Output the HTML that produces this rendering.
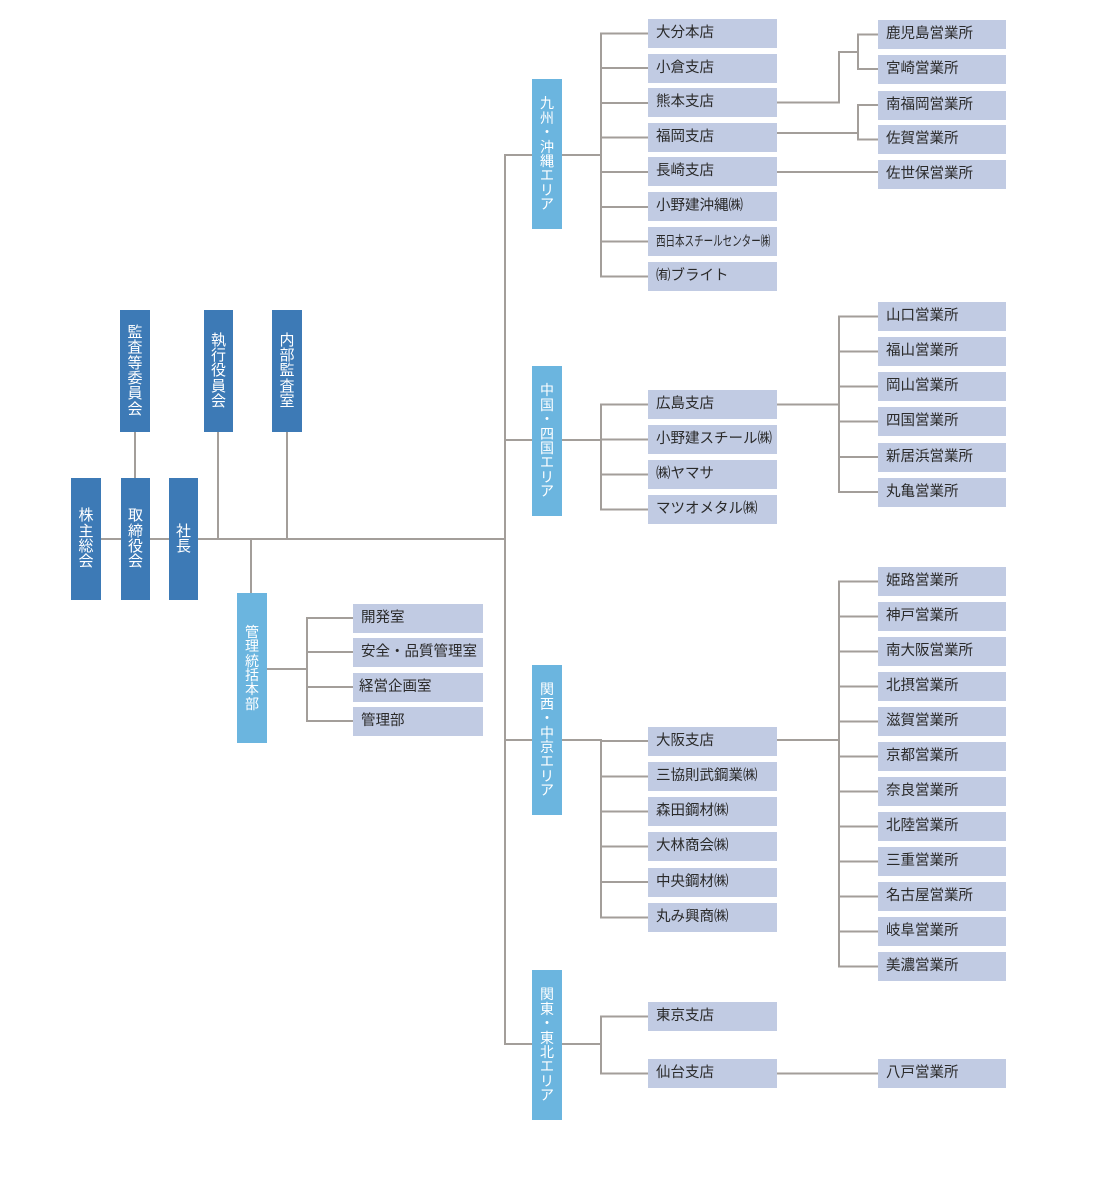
<!DOCTYPE html>
<html lang="ja">
<head>
<meta charset="utf-8">
<style>
html,body{margin:0;padding:0;background:#fff;}
#c{position:relative;width:1100px;height:1185px;overflow:hidden;background:#fff;font-family:"Liberation Sans","Noto Sans CJK JP",sans-serif;}
svg{position:absolute;left:0;top:0;}
.b{position:absolute;box-sizing:border-box;}
.d{background:#3d7ab6;color:#fff;font-size:15px !important;line-height:15.3px !important;}
.l{background:#6bb5df;color:#fff;}
.v{display:flex;align-items:center;justify-content:center;text-align:center;font-size:14px;line-height:14.4px;}
.g{background:#c1cbe3;color:#2a2a2a;font-size:14.5px;line-height:29px;height:29px;padding-left:8px;white-space:nowrap;}
.m{width:129px;left:648px;}
.r{width:128px;left:878px;}
.k{width:130px;left:353px;}
.cmp{display:inline-block;transform:scaleX(0.68);transform-origin:0 50%;font-size:14px;}
</style>
</head>
<body>
<div id="c">
<svg width="1100" height="1185" viewBox="0 0 1100 1185">
<g stroke="#a39e9a" stroke-width="2" fill="none">
<line x1="101" y1="539" x2="121" y2="539"/>
<line x1="150" y1="539" x2="169" y2="539"/>
<line x1="198" y1="539" x2="506" y2="539"/>
<line x1="135" y1="432" x2="135" y2="478"/>
<line x1="218" y1="432" x2="218" y2="539"/>
<line x1="287" y1="432" x2="287" y2="539"/>
<line x1="251" y1="539" x2="251" y2="593"/>
<line x1="267" y1="669" x2="307" y2="669"/>
<line x1="307" y1="617" x2="307" y2="722"/>
<line x1="307" y1="618" x2="353" y2="618"/>
<line x1="307" y1="652" x2="353" y2="652"/>
<line x1="307" y1="687" x2="353" y2="687"/>
<line x1="307" y1="721" x2="353" y2="721"/>
<line x1="505" y1="154" x2="505" y2="1045"/>
<line x1="505" y1="155" x2="532" y2="155"/>
<line x1="562" y1="155" x2="601" y2="155"/>
<line x1="601" y1="32.5" x2="601" y2="277.5"/>
<line x1="601" y1="33.5" x2="648" y2="33.5"/>
<line x1="601" y1="68" x2="648" y2="68"/>
<line x1="601" y1="103" x2="648" y2="103"/>
<line x1="601" y1="137.5" x2="648" y2="137.5"/>
<line x1="601" y1="172" x2="648" y2="172"/>
<line x1="601" y1="207" x2="648" y2="207"/>
<line x1="601" y1="241.5" x2="648" y2="241.5"/>
<line x1="601" y1="276.5" x2="648" y2="276.5"/>
<line x1="777" y1="102.5" x2="839" y2="102.5"/>
<line x1="839" y1="103.5" x2="839" y2="51"/>
<line x1="839" y1="52" x2="858" y2="52"/>
<line x1="858" y1="33.5" x2="858" y2="70"/>
<line x1="858" y1="34.5" x2="878" y2="34.5"/>
<line x1="858" y1="69" x2="878" y2="69"/>
<line x1="777" y1="133" x2="858" y2="133"/>
<line x1="858" y1="104" x2="858" y2="140.5"/>
<line x1="858" y1="105" x2="878" y2="105"/>
<line x1="858" y1="139.5" x2="878" y2="139.5"/>
<line x1="777" y1="172" x2="878" y2="172"/>
<line x1="505" y1="440" x2="532" y2="440"/>
<line x1="562" y1="440" x2="601" y2="440"/>
<line x1="601" y1="403.5" x2="601" y2="510.5"/>
<line x1="601" y1="404.5" x2="648" y2="404.5"/>
<line x1="601" y1="439.5" x2="648" y2="439.5"/>
<line x1="601" y1="474.5" x2="648" y2="474.5"/>
<line x1="601" y1="509.5" x2="648" y2="509.5"/>
<line x1="777" y1="404.5" x2="839" y2="404.5"/>
<line x1="839" y1="315.5" x2="839" y2="493"/>
<line x1="839" y1="316.5" x2="878" y2="316.5"/>
<line x1="839" y1="351.5" x2="878" y2="351.5"/>
<line x1="839" y1="386.5" x2="878" y2="386.5"/>
<line x1="839" y1="421.5" x2="878" y2="421.5"/>
<line x1="839" y1="457" x2="878" y2="457"/>
<line x1="839" y1="492" x2="878" y2="492"/>
<line x1="505" y1="740" x2="532" y2="740"/>
<line x1="562" y1="740" x2="601" y2="740"/>
<line x1="601" y1="739" x2="601" y2="918.5"/>
<line x1="601" y1="741" x2="648" y2="741"/>
<line x1="601" y1="776.5" x2="648" y2="776.5"/>
<line x1="601" y1="811.5" x2="648" y2="811.5"/>
<line x1="601" y1="846.5" x2="648" y2="846.5"/>
<line x1="601" y1="882" x2="648" y2="882"/>
<line x1="601" y1="917.5" x2="648" y2="917.5"/>
<line x1="777" y1="740" x2="839" y2="740"/>
<line x1="839" y1="580.5" x2="839" y2="967.5"/>
<line x1="839" y1="581.5" x2="878" y2="581.5"/>
<line x1="839" y1="616.5" x2="878" y2="616.5"/>
<line x1="839" y1="651.5" x2="878" y2="651.5"/>
<line x1="839" y1="686.5" x2="878" y2="686.5"/>
<line x1="839" y1="721.5" x2="878" y2="721.5"/>
<line x1="839" y1="756.5" x2="878" y2="756.5"/>
<line x1="839" y1="791.5" x2="878" y2="791.5"/>
<line x1="839" y1="826.5" x2="878" y2="826.5"/>
<line x1="839" y1="861.5" x2="878" y2="861.5"/>
<line x1="839" y1="896.5" x2="878" y2="896.5"/>
<line x1="839" y1="931.5" x2="878" y2="931.5"/>
<line x1="839" y1="966.5" x2="878" y2="966.5"/>
<line x1="505" y1="1044" x2="532" y2="1044"/>
<line x1="562" y1="1044" x2="601" y2="1044"/>
<line x1="601" y1="1015.5" x2="601" y2="1074.5"/>
<line x1="601" y1="1016.5" x2="648" y2="1016.5"/>
<line x1="601" y1="1073.5" x2="648" y2="1073.5"/>
<line x1="777" y1="1073.5" x2="878" y2="1073.5"/>
</g>
</svg>

<div class="b d v" style="left:71px;top:478px;width:30px;height:122px;">株<br>主<br>総<br>会</div>
<div class="b d v" style="left:121px;top:478px;width:29px;height:122px;">取<br>締<br>役<br>会</div>
<div class="b d v" style="left:169px;top:478px;width:29px;height:122px;">社<br>長</div>
<div class="b d v" style="left:120px;top:310px;width:30px;height:122px;">監<br>査<br>等<br>委<br>員<br>会</div>
<div class="b d v" style="left:204px;top:310px;width:29px;height:122px;">執<br>行<br>役<br>員<br>会</div>
<div class="b d v" style="left:272px;top:310px;width:30px;height:122px;">内<br>部<br>監<br>査<br>室</div>

<div class="b l v" style="left:237px;top:593px;width:30px;height:150px;">管<br>理<br>統<br>括<br>本<br>部</div>
<div class="b l v" style="left:532px;top:79px;width:30px;height:150px;">九<br>州<br>・<br>沖<br>縄<br>エ<br>リ<br>ア</div>
<div class="b l v" style="left:532px;top:366px;width:30px;height:150px;">中<br>国<br>・<br>四<br>国<br>エ<br>リ<br>ア</div>
<div class="b l v" style="left:532px;top:665px;width:30px;height:150px;">関<br>西<br>・<br>中<br>京<br>エ<br>リ<br>ア</div>
<div class="b l v" style="left:532px;top:970px;width:30px;height:150px;">関<br>東<br>・<br>東<br>北<br>エ<br>リ<br>ア</div>

<div class="b g k" style="top:604px;">開発室</div>
<div class="b g k" style="top:638px;">安全・品質管理室</div>
<div class="b g k" style="top:673px;padding-left:6px;">経営企画室</div>
<div class="b g k" style="top:707px;">管理部</div>

<div class="b g m" style="top:19px;">大分本店</div>
<div class="b g m" style="top:54px;">小倉支店</div>
<div class="b g m" style="top:88px;">熊本支店</div>
<div class="b g m" style="top:123px;">福岡支店</div>
<div class="b g m" style="top:157px;">長崎支店</div>
<div class="b g m" style="top:192px;">小野建沖縄㈱</div>
<div class="b g m" style="top:227px;"><span class="cmp">西日本スチールセンター㈱</span></div>
<div class="b g m" style="top:262px;">㈲ブライト</div>

<div class="b g r" style="top:20px;">鹿児島営業所</div>
<div class="b g r" style="top:55px;">宮崎営業所</div>
<div class="b g r" style="top:90.5px;">南福岡営業所</div>
<div class="b g r" style="top:125px;">佐賀営業所</div>
<div class="b g r" style="top:160px;">佐世保営業所</div>

<div class="b g m" style="top:390px;">広島支店</div>
<div class="b g m" style="top:425px;">小野建スチール㈱</div>
<div class="b g m" style="top:460px;">㈱ヤマサ</div>
<div class="b g m" style="top:495px;">マツオメタル㈱</div>

<div class="b g r" style="top:302px;">山口営業所</div>
<div class="b g r" style="top:337px;">福山営業所</div>
<div class="b g r" style="top:372px;">岡山営業所</div>
<div class="b g r" style="top:407px;">四国営業所</div>
<div class="b g r" style="top:442.5px;">新居浜営業所</div>
<div class="b g r" style="top:477.5px;">丸亀営業所</div>

<div class="b g m" style="top:727px;">大阪支店</div>
<div class="b g m" style="top:762px;">三協則武鋼業㈱</div>
<div class="b g m" style="top:797px;">森田鋼材㈱</div>
<div class="b g m" style="top:832px;">大林商会㈱</div>
<div class="b g m" style="top:868px;">中央鋼材㈱</div>
<div class="b g m" style="top:903px;">丸み興商㈱</div>

<div class="b g r" style="top:567px;">姫路営業所</div>
<div class="b g r" style="top:602px;">神戸営業所</div>
<div class="b g r" style="top:637px;">南大阪営業所</div>
<div class="b g r" style="top:672px;">北摂営業所</div>
<div class="b g r" style="top:707px;">滋賀営業所</div>
<div class="b g r" style="top:742px;">京都営業所</div>
<div class="b g r" style="top:777px;">奈良営業所</div>
<div class="b g r" style="top:812px;">北陸営業所</div>
<div class="b g r" style="top:847px;">三重営業所</div>
<div class="b g r" style="top:882px;">名古屋営業所</div>
<div class="b g r" style="top:917px;">岐阜営業所</div>
<div class="b g r" style="top:952px;">美濃営業所</div>

<div class="b g m" style="top:1002px;">東京支店</div>
<div class="b g m" style="top:1059px;">仙台支店</div>
<div class="b g r" style="top:1059px;">八戸営業所</div>
</div>
</body>
</html>
